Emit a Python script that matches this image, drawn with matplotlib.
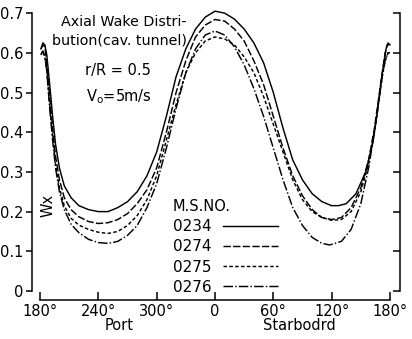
import matplotlib
matplotlib.use("Agg")
import matplotlib.pyplot as plt

plt.rcParams['font.family'] = ['DejaVu Sans']

# ---- data (angle in degrees: negative = port side 180..360, positive = starboard) ----
x_0234 = [-179, -177, -175, -173, -170, -167, -164, -160, -155, -148, -140, -130, -120, -110, -100,
          -90, -80, -70, -60, -50, -40, -30, -20, -10, 0, 10, 20, 30, 40, 50, 60, 70, 80, 90, 100,
          110, 120, 127, 135, 145, 155, 162, 167, 171, 174, 176, 178, 180]
w_0234 = [0.61, 0.625, 0.62, 0.595, 0.52, 0.44, 0.37, 0.31, 0.265, 0.235, 0.215, 0.205, 0.20, 0.20, 0.21,
          0.225, 0.25, 0.29, 0.35, 0.44, 0.54, 0.61, 0.66, 0.69, 0.705, 0.70, 0.685, 0.66, 0.625, 0.575,
          0.50, 0.41, 0.33, 0.28, 0.245, 0.225, 0.215, 0.215, 0.22, 0.245, 0.30, 0.37, 0.45, 0.53, 0.58,
          0.61, 0.625, 0.62]

x_0274 = [-179, -177, -175, -173, -170, -167, -164, -160, -155, -148, -140, -130, -120, -110, -100,
          -90, -80, -70, -60, -50, -40, -30, -20, -10, 0, 10, 20, 30, 40, 50, 60, 70, 80, 90, 100,
          110, 120, 130, 140, 150, 158, 164, 168, 172, 175, 177, 179]
w_0274 = [0.61, 0.62, 0.615, 0.575, 0.49, 0.41, 0.34, 0.28, 0.235, 0.205, 0.187, 0.175, 0.17, 0.172, 0.18,
          0.195, 0.22, 0.255, 0.31, 0.40, 0.50, 0.58, 0.64, 0.67, 0.684, 0.68, 0.66, 0.63, 0.58, 0.52,
          0.44, 0.36, 0.29, 0.24, 0.205, 0.185, 0.18, 0.185, 0.21, 0.26, 0.33, 0.41, 0.48, 0.55, 0.60,
          0.62, 0.62]

x_0275 = [-179, -177, -175, -173, -170, -167, -164, -160, -155, -148, -140, -130, -120, -110, -100,
          -90, -80, -70, -60, -50, -40, -30, -20, -10, 0, 10, 20, 30, 40, 50, 60, 70, 80, 90, 100,
          110, 120, 130, 140, 150, 158, 164, 168, 172, 175, 178, 180]
w_0275 = [0.595, 0.605, 0.59, 0.555, 0.47, 0.39, 0.32, 0.26, 0.215, 0.183, 0.166, 0.155, 0.148, 0.145, 0.15,
          0.165, 0.19, 0.23, 0.29, 0.38, 0.47, 0.55, 0.60, 0.63, 0.64, 0.635, 0.62, 0.59, 0.55, 0.49,
          0.42, 0.35, 0.28, 0.23, 0.20, 0.185, 0.178, 0.18, 0.20, 0.25, 0.32, 0.40, 0.47, 0.54, 0.58,
          0.60, 0.60]

x_0276 = [-179, -177, -175, -173, -170, -167, -164, -160, -155, -148, -140, -130, -120, -110, -100,
          -90, -80, -70, -60, -50, -40, -30, -20, -10, 0, 10, 20, 30, 40, 50, 60, 70, 80, 90, 100,
          110, 118, 130, 140, 150, 158, 164, 168, 172, 175, 178, 180]
w_0276 = [0.595, 0.605, 0.59, 0.555, 0.46, 0.38, 0.31, 0.25, 0.205, 0.168, 0.147, 0.13, 0.122, 0.12, 0.125,
          0.14, 0.165, 0.21, 0.27, 0.36, 0.46, 0.55, 0.61, 0.645, 0.655, 0.645, 0.615, 0.57, 0.51, 0.44,
          0.36, 0.28, 0.21, 0.165, 0.135, 0.12, 0.116, 0.125, 0.155, 0.22, 0.31, 0.40, 0.47, 0.54, 0.58,
          0.60, 0.60]

series_labels = ['0234', '0274', '0275', '0276']
x_ticks = [-180, -120, -60, 0, 60, 120, 180]
x_tick_labels = ['180°', '240°', '300°', '0', '60°', '120°', '180°']
y_ticks = [0, 0.1, 0.2, 0.3, 0.4, 0.5, 0.6, 0.7]
y_tick_labels = ['0', '0.1', '0.2', '0.3', '0.4', '0.5', '0.6', '0.7']

W, H = 412, 339
fig = plt.figure(figsize=(W / 100, H / 100), dpi=100)

def px(x, y):
    return x / W, 1 - y / H

ax_l, ax_r, ax_t, ax_b = 32, 400, 8, 300
ax = fig.add_axes([ax_l / W, 1 - ax_b / H, (ax_r - ax_l) / W, (ax_b - ax_t) / H])
ax.set_xlim(-188.2, 190.3)
ax.set_ylim(-0.0227, 0.713)

lw = 1.05
styles = [
    dict(linestyle='-'),
    dict(linestyle=(0, (5, 1.6))),
    dict(linestyle=(0, (2.4, 1.6))),
    dict(linestyle=(0, (6.5, 1.5, 1, 1.5))),
]
xs = [x_0234, x_0274, x_0275, x_0276]
ws = [w_0234, w_0274, w_0275, w_0276]
for xv, wv, st, lab in zip(xs, ws, styles, series_labels):
    ax.plot(xv, wv, color='black', lw=lw, label=lab, **st)

# spines
ax.spines['top'].set_visible(False)
ax.spines['right'].set_visible(False)
ax.spines['left'].set_bounds(0, 0.7)
ax.spines['bottom'].set_bounds(-180, 180)
for s in ax.spines.values():
    s.set_linewidth(1.1)

ax.set_yticks(y_ticks)
ax.set_yticklabels(y_tick_labels)
ax.set_xticks(x_ticks)
ax.set_xticklabels(x_tick_labels)
ax.tick_params(axis='y', direction='out', length=4, width=1.1, labelsize=10.5, pad=2)
ax.tick_params(axis='x', direction='in', length=6, width=1.1, labelsize=10.5, pad=3)

# right spine with inward ticks
sec = ax.secondary_yaxis('right')
sec.set_yticks(y_ticks)
sec.set_yticklabels([])
sec.tick_params(direction='in', length=5, width=1.1)
sec.spines['right'].set_bounds(0, 0.7)
sec.spines['right'].set_linewidth(1.1)

# axis titles
fig.text(*px(48, 205), 'Wx', rotation=90, ha='center', va='center', fontsize=10.5)
fig.text(*px(119, 326), 'Port', ha='center', va='center', fontsize=10.5)
fig.text(*px(299, 326), 'Starbodrd', ha='center', va='center', fontsize=10.5)

# annotations
fig.text(*px(124, 22), 'Axial Wake Distri-', ha='center', va='center', fontsize=10.3)
fig.text(*px(119, 40), 'bution(cav. tunnel)', ha='center', va='center', fontsize=10.3)
fig.text(*px(118, 70), 'r/R = 0.5', ha='center', va='center', fontsize=10.5)
fig.text(*px(119, 97), r'V$_\mathregular{o}$=5m/s', ha='center', va='center', fontsize=10.5)

leg = ax.legend(title='M.S.NO.', loc='upper left', bbox_to_anchor=px(173, 199),
                bbox_transform=fig.transFigure, frameon=False, markerfirst=False,
                handlelength=3.6, handletextpad=0.75, labelspacing=0.34, fontsize=11,
                title_fontsize=10.5, alignment='left', borderpad=0, borderaxespad=0)
for line in leg.get_lines():
    line.set_linewidth(lw)

fig.savefig('out.png', dpi=100)
